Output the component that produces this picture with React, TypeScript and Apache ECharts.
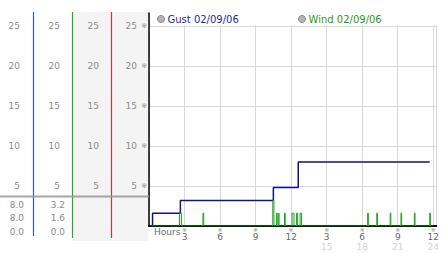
import React, { useEffect, useRef } from 'react';
import * as echarts from 'echarts';

// Tick labels
const yTickLabels = ['', '5', '10', '15', '20', '25'];
const xTickRow1 = ['', '3', '6', '9', '12', '3', '6', '9', '12'];
const xTickRow2 = ['', '', '', '', '', '15', '18', '21', '24'];

// Gust (step line), hours and values
const gustHours = [0.05, 0.3, 2.65, 10.5, 12.6, 23.7];
const gustValues = [0, 1.6, 3.2, 4.8, 8.0, 8.0];

// Wind spikes: start hour, end hour, value
const windSpikeStart = [2.58, 4.55, 10.45, 10.76, 10.92, 11.44, 12.08, 12.45, 12.76, 18.46, 19.23, 20.36, 21.27, 22.4, 23.7];
const windSpikeEnd = [2.75, 4.62, 10.55, 10.82, 10.98, 11.5, 12.24, 12.55, 12.88, 18.52, 19.29, 20.42, 21.33, 22.46, 23.76];
const windSpikeValue = [1.6, 1.6, 3.2, 1.6, 1.6, 1.6, 1.6, 1.6, 1.6, 1.6, 1.6, 1.6, 1.6, 1.6, 1.6];
const windFirstHour = 0.2;
const windLastHour = 24;

// Stats (max, latest, min)
const gustStats = ['8.0', '8.0', '0.0'];
const windStats = ['3.2', '1.6', '0.0'];

const gustName = 'Gust 02/09/06';
const windName = 'Wind 02/09/06';

const FONT = 'DejaVu Sans, Verdana, sans-serif';
const MARK_FONT = 'DejaVu Sans, Noto Sans CJK JP';

export default function App() {
  const ref = useRef<HTMLDivElement>(null);

  useEffect(() => {
    document.body.style.margin = '0';
    const chart = echarts.init(ref.current!, null, { renderer: 'svg' });

    const gustData = gustHours.map((h, i) => [h, gustValues[i]]);
    const windData: number[][] = [[windFirstHour, 0]];
    windSpikeStart.forEach((s, i) => {
      windData.push([s, windSpikeValue[i]]);
      windData.push([windSpikeEnd[i], 0]);
    });
    windData.push([windLastHour, 0]);

    const onStep = (v: number, step: number) => Math.abs(v / step - Math.round(v / step)) < 1e-6;
    const yFmt = (v: number) => (onStep(v, 5) ? yTickLabels[Math.round(v / 5)] ?? '' : '');
    const row1Fmt = (v: number) => (onStep(v, 3) ? xTickRow1[Math.round(v / 3)] ?? '' : '');
    const row2Fmt = (v: number) => (onStep(v, 3) ? xTickRow2[Math.round(v / 3)] ?? '' : '');
    const yMarkFmt = (v: number) => (onStep(v, 5) && v > 0 ? '※' : '');
    const xMarkFmt = (v: number) => (onStep(v, 3) && v > 0 ? '※' : '');

    const yBase = {
      type: 'value',
      min: 0,
      max: 26.625,
      interval: 5,
      position: 'left',
      offset: 0,
      axisLine: { show: false },
      axisTick: { show: false },
      splitLine: { show: false },
    };
    const yLabel = (margin: number) => ({
      ...yBase,
      axisLabel: { margin, formatter: yFmt, color: '#8c8c8c', fontSize: 9, fontFamily: FONT, showMaxLabel: false },
    });

    const xBase = {
      type: 'value',
      min: 0,
      max: 24.25,
      interval: 3,
      position: 'bottom',
      offset: 0,
      axisLine: { show: false },
      axisTick: { show: false },
      splitLine: { show: false },
    };

    const colTop = 12;
    const statY = [205, 218, 232];

    const option: any = {
      animation: false,
      backgroundColor: '#ffffff',
      grid: { left: 149, right: 0, top: 13, bottom: 27, containLabel: false },
      legend: [
        {
          data: [{ name: gustName, itemStyle: { color: '#b4b4b4', borderColor: '#888', borderWidth: 1 } }],
          left: 157,
          top: 14,
          padding: 0,
          icon: 'circle',
          itemWidth: 7,
          itemHeight: 7,
          textStyle: { color: '#1c2a9c', fontSize: 10, fontFamily: FONT, padding: [0, 0, 0, -2] },
        },
        {
          data: [{ name: windName, itemStyle: { color: '#b4b4b4', borderColor: '#888', borderWidth: 1 } }],
          left: 298,
          top: 14,
          padding: 0,
          icon: 'circle',
          itemWidth: 7,
          itemHeight: 7,
          textStyle: { color: '#1f9a1f', fontSize: 10, fontFamily: FONT, padding: [0, 0, 0, -2] },
        },
      ],
      xAxis: [
        {
          ...xBase,
          axisLine: { show: true, lineStyle: { color: '#000', width: 2 } },
          splitLine: { show: true, lineStyle: { color: '#d9d9d9', width: 1 } },
          axisLabel: { margin: 6, formatter: row1Fmt, color: '#666', fontSize: 9, lineHeight: 9, fontFamily: FONT, showMaxLabel: false },
        },
        {
          ...xBase,
          axisLabel: { margin: 1, formatter: xMarkFmt, color: '#8a8a8a', fontSize: 6, lineHeight: 5, fontFamily: MARK_FONT, showMaxLabel: false },
        },
        {
          ...xBase,
          axisLabel: { margin: 16, formatter: row2Fmt, color: '#d2d2d2', fontSize: 9, lineHeight: 9, fontFamily: FONT, showMaxLabel: false },
        },
      ],
      yAxis: [
        {
          ...yBase,
          axisLine: { show: true, lineStyle: { color: '#000', width: 1.5 } },
          splitLine: { show: true, lineStyle: { color: '#d9d9d9', width: 1 } },
          axisLabel: { margin: 12, formatter: yFmt, color: '#8c8c8c', fontSize: 9, fontFamily: FONT, showMaxLabel: false },
        },
        yLabel(50),
        yLabel(89),
        yLabel(129),
        {
          ...yBase,
          axisLabel: { margin: 2, formatter: yMarkFmt, color: '#8a8a8a', fontSize: 7, fontFamily: MARK_FONT, showMaxLabel: false },
        },
      ],
      series: [
        {
          name: gustName,
          type: 'line',
          step: 'end',
          data: gustData,
          showSymbol: false,
          symbol: 'none',
          lineStyle: { color: '#11118a', width: 1.5 },
          itemStyle: { color: '#11118a' },
          z: 3,
        },
        {
          name: windName,
          type: 'line',
          step: 'end',
          data: windData,
          showSymbol: false,
          symbol: 'none',
          lineStyle: { color: '#1fa21f', width: 1 },
          itemStyle: { color: '#1fa21f' },
          z: 4,
        },
      ],
      graphic: [
        { type: 'rect', shape: { x: 150, y: 13, width: 292, height: 12 }, style: { fill: '#ffffff' }, z: 1, silent: true },
        { type: 'rect', shape: { x: 72, y: colTop, width: 76, height: 229 }, style: { fill: '#f4f4f4' }, z: -1, silent: true },
        { type: 'line', shape: { x1: 33.5, y1: colTop, x2: 33.5, y2: 236 }, style: { stroke: '#3558c8', lineWidth: 1.2 }, z: 2 },
        { type: 'line', shape: { x1: 72.5, y1: colTop, x2: 72.5, y2: 238 }, style: { stroke: '#2fa52f', lineWidth: 1.2 }, z: 2 },
        { type: 'line', shape: { x1: 111.5, y1: colTop, x2: 111.5, y2: 238 }, style: { stroke: '#c83a3a', lineWidth: 1.2 }, z: 2 },
        { type: 'line', shape: { x1: 0, y1: 196.5, x2: 149, y2: 196.5 }, style: { stroke: 'rgba(150,150,150,0.85)', lineWidth: 2 }, z: 3 },
        ...gustStats.map((t, i) => ({
          type: 'text', x: 24, y: statY[i],
          style: { text: t, fill: '#8c8c8c', fontSize: 9, fontFamily: FONT, align: 'right', verticalAlign: 'middle' },
          z: 3,
        })),
        ...windStats.map((t, i) => ({
          type: 'text', x: 65, y: statY[i],
          style: { text: t, fill: '#8c8c8c', fontSize: 9, fontFamily: FONT, align: 'right', verticalAlign: 'middle' },
          z: 3,
        })),
        {
          type: 'text', x: 154, y: 232,
          style: { text: 'Hours', fill: '#6a6a6a', fontSize: 9, fontFamily: FONT, align: 'left', verticalAlign: 'middle' },
          z: 3,
        },
      ],
    };

    chart.setOption(option);
    return () => chart.dispose();
  }, []);

  return <div ref={ref} style={{ position: 'absolute', left: 0, top: 0, width: 442, height: 253 }} />;
}
